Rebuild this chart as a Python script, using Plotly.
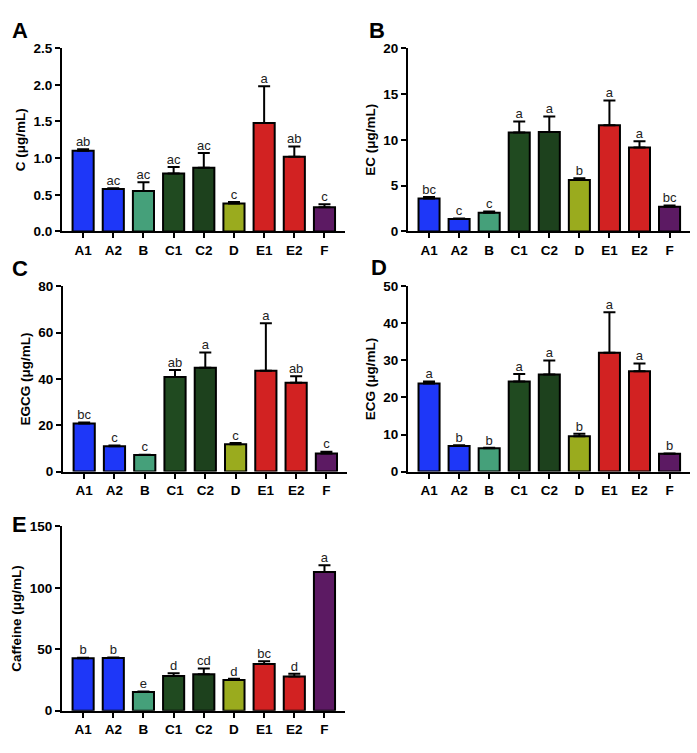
import plotly.graph_objects as go

W, H = 697, 753

groups = ["A1", "A2", "B", "C1", "C2", "D", "E1", "E2", "F"]
bar_colors = ["#1e37f8", "#1e37f8", "#45a07a", "#204a20", "#1d411d",
              "#9aab1e", "#d22222", "#d22222", "#5c1a63"]

c_mean = [1.10, 0.58, 0.55, 0.79, 0.87, 0.38, 1.48, 1.02, 0.33]
c_err = [0.02, 0.01, 0.12, 0.09, 0.20, 0.02, 0.50, 0.14, 0.04]
c_letters = ["ab", "ac", "ac", "ac", "ac", "c", "a", "ab", "c"]

ec_mean = [3.6, 1.35, 2.05, 10.8, 10.85, 5.6, 11.6, 9.15, 2.7]
ec_err = [0.15, 0.05, 0.12, 1.2, 1.7, 0.2, 2.7, 0.7, 0.12]
ec_letters = ["bc", "c", "c", "a", "a", "b", "a", "a", "bc"]

egcg_mean = [20.8, 10.9, 7.1, 40.8, 44.8, 11.8, 43.5, 38.3, 7.8]
egcg_err = [0.4, 0.3, 0.2, 3.1, 6.6, 0.5, 20.6, 2.9, 0.8]
egcg_letters = ["bc", "c", "c", "ab", "a", "c", "a", "ab", "c"]

ecg_mean = [23.8, 6.9, 6.3, 24.3, 26.2, 9.5, 32.1, 27.1, 4.8]
ecg_err = [0.5, 0.2, 0.1, 2.0, 3.8, 0.7, 10.9, 2.1, 0.1]
ecg_letters = ["a", "b", "b", "a", "a", "b", "a", "a", "b"]

caf_mean = [42.7, 42.8, 15.3, 28.3, 29.7, 25.0, 38.0, 27.9, 113.0]
caf_err = [0.5, 0.5, 0.3, 2.2, 4.6, 1.0, 2.2, 2.1, 5.5]
caf_letters = ["b", "b", "e", "d", "cd", "d", "bc", "d", "a"]

# label, y title, mean, err, letters, ymax, dtick, tickformat,
# x px domain, y px domain (top, bottom), label position
panels = [
    ("A", "C (μg/mL)", c_mean, c_err, c_letters, 2.5, 0.5, ".1f",
     (62, 345), (42, 229), (20, 24)),
    ("B", "EC (μg/mL)", ec_mean, ec_err, ec_letters, 20, 5, "d",
     (408, 690), (42, 229), (377, 24)),
    ("C", "EGCG (μg/mL)", egcg_mean, egcg_err, egcg_letters, 80, 20, "d",
     (63, 347), (285, 474), (20, 267)),
    ("D", "ECG (μg/mL)", ecg_mean, ecg_err, ecg_letters, 50, 10, "d",
     (408, 690), (285, 474), (379, 266)),
    ("E", "Caffeine (μg/mL)", caf_mean, caf_err, caf_letters, 150, 50, "d",
     (62, 345), (530, 718), (19, 528)),
]

FONT = "Arial, Liberation Sans, sans-serif"

fig = go.Figure()
annotations = []

for i, (lab, ytitle, mean, err, letters, ymax, dtick, tfmt,
        xd, yd, lpos) in enumerate(panels):
    n = "" if i == 0 else str(i + 1)
    xa, ya = "x" + n, "y" + n

    fig.add_trace(go.Bar(
        x=groups, y=mean, xaxis=xa, yaxis=ya, width=0.7,
        marker=dict(color=bar_colors, line=dict(color="black", width=2)),
        error_y=dict(type="data", symmetric=False, array=err,
                     arrayminus=[0] * len(err), color="black",
                     thickness=2, width=6),
    ))
    tops = [m + e for m, e in zip(mean, err)]
    fig.add_trace(go.Scatter(
        x=groups, y=tops, xaxis=xa, yaxis=ya, mode="text",
        text=letters, textposition="top center",
        textfont=dict(size=13, color="#222222", family=FONT),
        cliponaxis=False,
    ))

    fig.layout["xaxis" + n] = dict(
        domain=[xd[0] / W, xd[1] / W], anchor=ya,
        range=[-0.7, 8.68], showline=True, linecolor="black", linewidth=2,
        ticks="outside", ticklen=5, tickwidth=2, tickcolor="black",
        tickfont=dict(size=13.5, color="black", family=FONT, weight="bold"),
        showgrid=False, zeroline=False,
    )
    fig.layout["yaxis" + n] = dict(
        domain=[1 - yd[1] / H, 1 - yd[0] / H], anchor=xa,
        range=[0, ymax], dtick=dtick, tickformat=tfmt,
        showline=True, linecolor="black", linewidth=2,
        ticks="outside", ticklen=5, tickwidth=2, tickcolor="black",
        tickfont=dict(size=13.5, color="black", family=FONT, weight="bold"),
        showgrid=False, zeroline=False,
        title=dict(text=ytitle, standoff=5,
                   font=dict(size=13.5, color="black", family=FONT, weight="bold")),
    )

    annotations.append(dict(
        text=lab, x=lpos[0] / W, y=1 - lpos[1] / H, xref="paper", yref="paper",
        xanchor="center", yanchor="middle", showarrow=False,
        font=dict(size=22, color="black", family=FONT, weight="bold"),
    ))

fig.update_layout(
    width=W, height=H, margin=dict(l=0, r=0, t=0, b=0),
    plot_bgcolor="white", paper_bgcolor="white", showlegend=False,
    font=dict(family=FONT), annotations=annotations,
)

# drop the default body margin so the figure sits at the window corner
fig.write_html("out.html", config={"displayModeBar": False},
               post_script="document.body.style.margin='0px';")
